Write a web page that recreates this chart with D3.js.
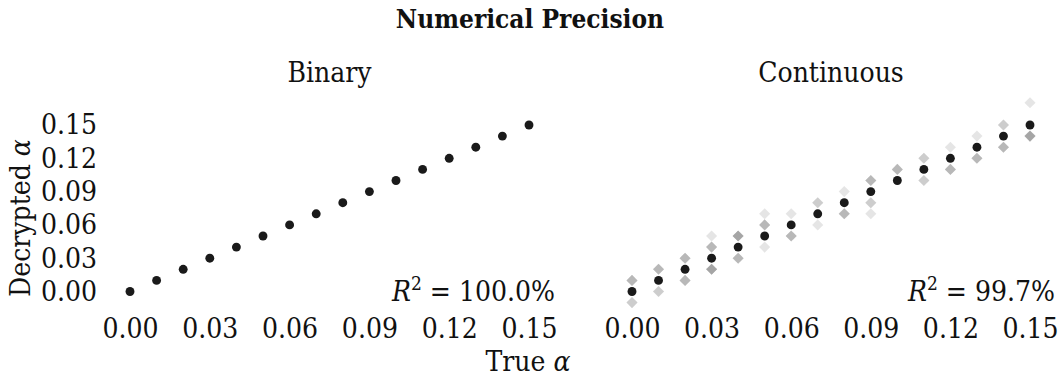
<!DOCTYPE html>
<html>
<head>
<meta charset="utf-8">
<script src="https://cdn.jsdelivr.net/npm/d3@7"></script>
<style>
  body { margin: 0; background: #fff; }
  svg text { font-family: "DejaVu Serif Condensed", "DejaVu Serif", serif; font-stretch: condensed; fill: #111; }
</style>
</head>
<body>
<svg id="chart"></svg>
<script>
const trueAlpha = [0, 0.01, 0.02, 0.03, 0.04, 0.05, 0.06, 0.07, 0.08, 0.09, 0.10, 0.11, 0.12, 0.13, 0.14, 0.15];
const binaryDecrypted = [0, 0.01, 0.02, 0.03, 0.04, 0.05, 0.06, 0.07, 0.08, 0.09, 0.10, 0.11, 0.12, 0.13, 0.14, 0.15];
const continuousMean = [0, 0.01, 0.02, 0.03, 0.04, 0.05, 0.06, 0.07, 0.08, 0.09, 0.10, 0.11, 0.12, 0.13, 0.14, 0.15];

// individual continuous runs: true alpha, decrypted value, how many runs landed there
const runAlpha = [0, 0, 0.01, 0.01, 0.02, 0.02, 0.03, 0.03, 0.03, 0.04, 0.04, 0.05, 0.05, 0.05, 0.06, 0.06,
  0.07, 0.07, 0.08, 0.08, 0.09, 0.09, 0.09, 0.10, 0.11, 0.11, 0.12, 0.12, 0.13, 0.13, 0.14, 0.14, 0.15, 0.15];
const runValue = [0.01, -0.01, 0.02, 0.00, 0.03, 0.01, 0.05, 0.04, 0.02, 0.05, 0.03, 0.07, 0.06, 0.04, 0.07, 0.05,
  0.08, 0.06, 0.09, 0.07, 0.10, 0.08, 0.07, 0.11, 0.12, 0.10, 0.13, 0.11, 0.14, 0.12, 0.15, 0.13, 0.17, 0.14];
const runCount = [3, 2, 3, 2, 3, 3, 1, 3, 4, 4, 3, 1, 3, 1, 1, 3,
  2, 1, 1, 3, 3, 2, 1, 3, 2, 2, 1, 3, 1, 3, 2, 3, 1, 4];

const xTicks = [0, 0.03, 0.06, 0.09, 0.12, 0.15];
const yTicks = [0, 0.03, 0.06, 0.09, 0.12, 0.15];
const r2Labels = ['100.0%', '99.7%'];
const panelTitles = ['Binary', 'Continuous'];

const width = 1060, height = 383;
const fs = '28px';
const svg = d3.select('#chart').attr('width', width).attr('height', height);

const fmt = d3.format('.2f');
const y = d3.scaleLinear().domain([0, 0.15]).range([291.5, 125]);
const xLeft = d3.scaleLinear().domain([0, 0.15]).range([130, 529]);
const xRight = d3.scaleLinear().domain([0, 0.15]).range([632, 1030]);

// title
svg.append('text')
  .attr('x', 530).attr('y', 28)
  .attr('text-anchor', 'middle')
  .style('font-size', '26px').style('font-weight', 'bold')
  .text('Numerical Precision');

// panel titles
[xLeft, xRight].forEach((x, i) => {
  svg.append('text')
    .attr('x', (x.range()[0] + x.range()[1]) / 2).attr('y', 82)
    .attr('text-anchor', 'middle')
    .style('font-size', fs)
    .text(panelTitles[i]);
});

// y axis (shared)
svg.append('g')
  .attr('transform', 'translate(100,0)')
  .call(d3.axisLeft(y).tickValues(yTicks).tickFormat(fmt).tickSize(0).tickPadding(3))
  .call(g => g.select('.domain').remove())
  .call(g => g.selectAll('.tick text').style('font-size', fs));

// x axes
[xLeft, xRight].forEach(x => {
  svg.append('g')
    .attr('transform', 'translate(0,313)')
    .call(d3.axisBottom(x).tickValues(xTicks).tickFormat(fmt).tickSize(0).tickPadding(5))
    .call(g => g.select('.domain').remove())
    .call(g => g.selectAll('.tick text').style('font-size', fs));
});

// diamonds for the continuous runs, overlapping runs get darker
const diamond = d3.symbol().type(d3.symbolSquare).size(62);
const runs = [];
runAlpha.forEach((a, i) => {
  for (let k = 0; k < runCount[i]; k++) runs.push({ a: a, v: runValue[i] });
});
svg.append('g').selectAll('path')
  .data(runs)
  .join('path')
  .attr('d', diamond)
  .attr('transform', d => `translate(${xRight(d.a)},${y(d.v)}) rotate(45)`)
  .attr('fill', '#000')
  .attr('fill-opacity', 0.1);

// mean points
const dot = d3.symbol().type(d3.symbolCircle).size(62);
svg.append('g').selectAll('path')
  .data(trueAlpha)
  .join('path')
  .attr('d', dot)
  .attr('transform', (d, i) => `translate(${xLeft(d)},${y(binaryDecrypted[i])})`)
  .attr('fill', '#1a1a1a');

svg.append('g').selectAll('path')
  .data(trueAlpha)
  .join('path')
  .attr('d', dot)
  .attr('transform', (d, i) => `translate(${xRight(d)},${y(continuousMean[i])})`)
  .attr('fill', '#1a1a1a');

// R^2 annotations
[[555, r2Labels[0]], [1055, r2Labels[1]]].forEach(([xp, label]) => {
  const t = svg.append('text')
    .attr('x', xp).attr('y', 301)
    .attr('text-anchor', 'end')
    .style('font-size', fs);
  t.append('tspan').style('font-style', 'italic').text('R');
  t.append('tspan').attr('dy', -11).style('font-size', '19px').text('2');
  t.append('tspan').attr('dy', 11).text(' = ' + label);
});

// axis labels
const xl = svg.append('text')
  .attr('x', 528).attr('y', 371)
  .attr('text-anchor', 'middle')
  .style('font-size', fs);
xl.append('tspan').text('True ');
xl.append('tspan').style('font-style', 'italic').text('α');

const yl = svg.append('text')
  .attr('transform', 'translate(30,218) rotate(-90)')
  .attr('text-anchor', 'middle')
  .style('font-size', fs);
yl.append('tspan').text('Decrypted ');
yl.append('tspan').style('font-style', 'italic').text('α');
</script>
</body>
</html>
